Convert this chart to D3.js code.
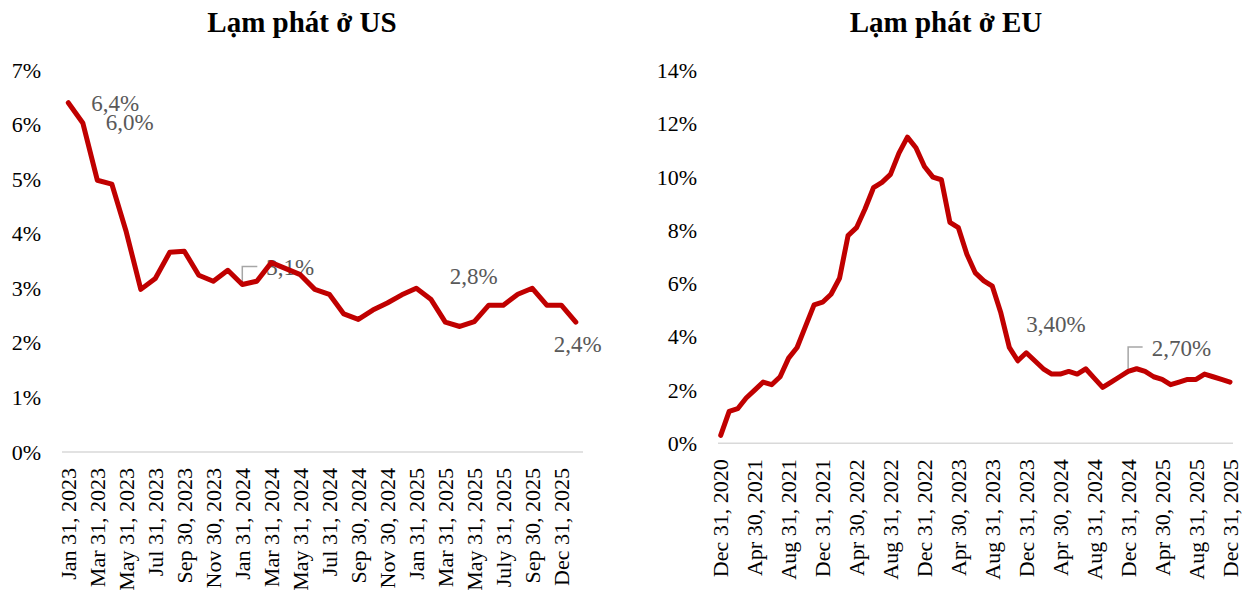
<!DOCTYPE html>
<html>
<head>
<meta charset="utf-8">
<script src="https://cdn.jsdelivr.net/npm/d3@7"></script>
<style>
  body { margin: 0; background: #fff; }
  svg { display: block; }
  svg text { font-family: "Times New Roman", "Liberation Serif", serif; }
  .title { font-weight: bold; font-size: 29px; }
  .axis text { font-size: 22px; fill: #000; }
  .note { font-size: 23px; fill: #595959; }
</style>
</head>
<body>
<svg id="chart" width="1254" height="601"></svg>
<script>
// DATA //////////////////////////////////////////////////////////////

// US, monthly y/y CPI, 36 points
var usValues = [6.4, 6.03, 4.98, 4.91, 4.03, 2.98, 3.18, 3.66, 3.68, 3.24, 3.13, 3.33,
  3.07, 3.13, 3.47, 3.36, 3.25, 2.98, 2.89, 2.53, 2.43, 2.6, 2.73, 2.88,
  3.0, 2.8, 2.38, 2.3, 2.39, 2.69, 2.69, 2.89, 3.0, 2.69, 2.69, 2.38];
var usTickLabels = ["Jan 31, 2023", "Mar 31, 2023", "May 31, 2023", "Jul 31, 2023",
  "Sep 30, 2023", "Nov 30, 2023", "Jan 31, 2024", "Mar 31, 2024", "May 31, 2024",
  "Jul 31, 2024", "Sep 30, 2024", "Nov 30, 2024", "Jan 31, 2025", "Mar 31, 2025",
  "May 31, 2025", "July 31, 2025", "Sep 30, 2025", "Dec 31, 2025"];
var usYTicks = [0, 1, 2, 3, 4, 5, 6, 7];

// EU, monthly y/y HICP, 61 points
var euValues = [0.3, 1.2, 1.3, 1.7, 2.0, 2.3, 2.2, 2.5, 3.2, 3.6, 4.4, 5.2,
  5.3, 5.6, 6.2, 7.8, 8.1, 8.8, 9.6, 9.8, 10.1, 10.9, 11.5, 11.1,
  10.4, 10.0, 9.9, 8.3, 8.1, 7.1, 6.4, 6.1, 5.9, 4.9, 3.6, 3.1,
  3.4, 3.1, 2.8, 2.6, 2.6, 2.7, 2.6, 2.8, 2.45, 2.1, 2.3, 2.5,
  2.7, 2.8, 2.7, 2.5, 2.4, 2.2, 2.3, 2.4, 2.4, 2.6, 2.5, 2.4, 2.3];
var euTickLabels = ["Dec 31, 2020", "Apr 30, 2021", "Aug 31, 2021", "Dec 31, 2021",
  "Apr 30, 2022", "Aug 31, 2022", "Dec 31, 2022", "Apr 30, 2023", "Aug 31, 2023",
  "Dec 31, 2023", "Apr 30, 2024", "Aug 31, 2024", "Dec 31, 2024", "Apr 30, 2025",
  "Aug 31, 2025", "Dec 31, 2025"];
var euYTicks = [0, 2, 4, 6, 8, 10, 12, 14];

// labels on points: index into values + text
var usNotes = [[0, "6,4%"], [1, "6,0%"], [12, "3,1%"], [25, "2,8%"], [35, "2,4%"]];
var euNotes = [[36, "3,40%"], [48, "2,70%"]];

// LAYOUT ////////////////////////////////////////////////////////////

var svg = d3.select("#chart");

var panels = [
  { title: "Lạm phát ở US", titleX: 302, values: usValues, tickLabels: usTickLabels, tickEvery: 2,
    yTicks: usYTicks, yMax: 7, yRange: [452, 70], xRange: [68.3, 575.8], axisX: [62, 583],
    notes: usNotes,
    offsets: [[23, 8.5], [23, 7], [24, -9], [19, -15], [-22, 30]],
    leaders: { 2: true } },
  { title: "Lạm phát ở EU", titleX: 946, values: euValues, tickLabels: euTickLabels, tickEvery: 4,
    yTicks: euYTicks, yMax: 14, yRange: [443.3, 70.6], xRange: [720.7, 1230], axisX: [718, 1233],
    notes: euNotes,
    offsets: [[0, -21], [23.5, -15.5]],
    leaders: { 1: true } }
];

panels.forEach(function(p) {
  var g = svg.append("g");
  var n = p.values.length;

  var x = d3.scalePoint().domain(d3.range(n)).range(p.xRange);
  var y = d3.scaleLinear().domain([0, p.yMax]).range(p.yRange);

  // title
  g.append("text").attr("class", "title")
    .attr("x", p.titleX).attr("y", 32)
    .attr("text-anchor", "middle")
    .text(p.title);

  // category axis line
  g.append("line")
    .attr("x1", p.axisX[0]).attr("x2", p.axisX[1])
    .attr("y1", y(0)).attr("y2", y(0))
    .attr("stroke", "#d9d9d9").attr("stroke-width", 1.5);

  // y axis (labels only)
  var yAxis = g.append("g").attr("class", "axis")
    .attr("transform", "translate(" + p.axisX[0] + ",0)")
    .call(d3.axisLeft(y).tickValues(p.yTicks).tickSize(0).tickPadding(21)
      .tickFormat(function(d) { return d + "%"; }));
  yAxis.select(".domain").remove();

  // x axis, rotated labels every few categories
  var tickIdx = p.tickLabels.map(function(t, i) { return i * p.tickEvery; });
  var xAxis = g.append("g").attr("class", "axis")
    .attr("transform", "translate(0," + y(0) + ")")
    .call(d3.axisBottom(x).tickValues(tickIdx).tickSize(0)
      .tickFormat(function(d) { return p.tickLabels[d / p.tickEvery]; }));
  xAxis.select(".domain").remove();
  xAxis.selectAll("text")
    .attr("transform", "rotate(-90)")
    .attr("text-anchor", "end")
    .attr("x", -16).attr("y", 0).attr("dy", "0.33em");

  // point labels (drawn under the line)
  p.notes.forEach(function(nt, k) {
    var px = x(nt[0]), py = y(p.values[nt[0]]);
    var off = p.offsets[k];
    if (p.leaders[k]) {
      g.append("path")
        .attr("d", "M" + px + "," + (py - 2) + "V" + (py + off[1] - 9) + "H" + (px + off[0] - 9))
        .attr("fill", "none").attr("stroke", "#a6a6a6").attr("stroke-width", 1.5);
    }
    g.append("text").attr("class", "note")
      .attr("x", px + off[0]).attr("y", py + off[1])
      .text(nt[1]);
  });

  // series line
  var line = d3.line()
    .x(function(d, i) { return x(i); })
    .y(function(d) { return y(d); });

  g.append("path")
    .datum(p.values)
    .attr("d", line)
    .attr("fill", "none")
    .attr("stroke", "#c00000")
    .attr("stroke-width", 5)
    .attr("stroke-linejoin", "round")
    .attr("stroke-linecap", "round");
});
</script>
</body>
</html>
